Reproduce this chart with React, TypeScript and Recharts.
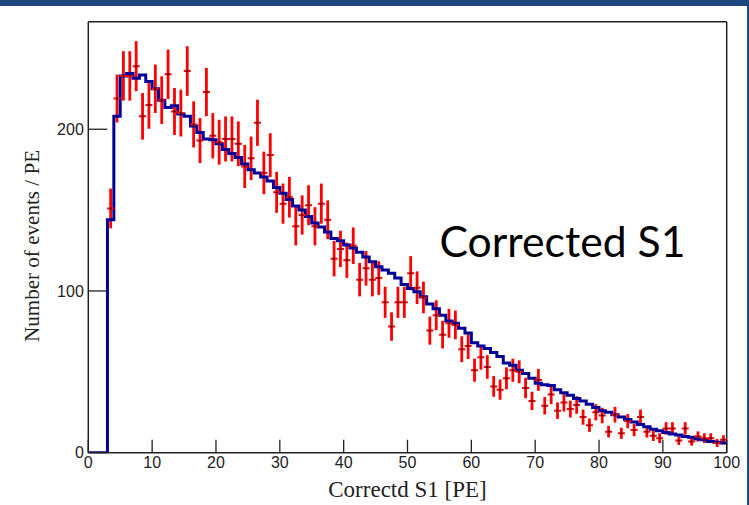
import React from "react";
import {
  ComposedChart,
  Line,
  Scatter,
  ErrorBar,
  XAxis,
  YAxis,
  ReferenceLine,
} from "recharts";

// Bin lower edges (PE), 1 PE wide bins from 0 to 100
const binEdges: number[] = Array.from({ length: 100 }, (_, i) => i);

// Simulated (blue histogram) counts per bin
const mcCounts: number[] = [
  0, 0, 0, 144, 208, 233, 234.5, 231.5, 233.5, 229.5,
  225, 218, 213.5, 214.5, 209.5, 208, 202, 198, 194, 193.5,
  191, 187.5, 185, 182.5, 178.5, 175, 173, 170.5, 168, 164,
  160.5, 156.5, 152.5, 150, 146, 142, 139.5, 136.5, 132.5, 131,
  128.5, 126.5, 124, 121, 118, 115, 113, 111, 108, 104,
  101.5, 99.5, 96.5, 92, 89, 85, 81.5, 80, 77, 74,
  68, 66, 64.5, 62, 59.5, 55.5, 54, 51, 49, 46,
  43, 42, 41.5, 39, 37, 35.5, 33.5, 32, 30, 28,
  26, 25, 23.5, 22, 20.5, 19, 17.5, 16, 14.5, 13.5,
  12.5, 11.5, 11, 10, 9.5, 8.5, 8, 7, 6.5, 6,
];

// Measured (red points) counts per bin
const dataCounts: (number | null)[] = [
  null, null, null, 151, 219, 233, 233, 239, 208, 215,
  225, 218, 234, 211, 210, 236, 203, 193, 223, 196,
  192, 194, 194, 191, 177, 182, 204, 173, 184, 161,
  154, 158, 140, 147, 153, 140, 154, 144, 120, 126,
  119, 128, 107, 114, 107, 108, 93, 78, 93, 93,
  111, 102, 96, 75.5, 85, 73, 80, 79, 64, 66,
  51, 59, 53, 41, 39, 46, 51, 50, 40, 32,
  45, 29, 36, 26, 31, 27, 29.5, 22, 17, 25,
  23, 13, 23.5, 12, 19.5, 14, 22, 13, 10.5, 9,
  15, 15, 7.5, 15, 7, 10, 9, 9, 6, 8,
];

const xTicks: number[] = [0, 10, 20, 30, 40, 50, 60, 70, 80, 90, 100];
const yTicks: number[] = [0, 100, 200];
const X_MAX = 100;
const Y_MAX = 266.5;

const xTitle = "Correctd S1 [PE]";
const yTitle = "Number of events / PE";
const overlayText = "Corrected S1";

const histData = [
  ...binEdges.map((e, i) => ({ x: e, y: mcCounts[i] })),
  { x: X_MAX, y: mcCounts[mcCounts.length - 1] },
];

const pointData = binEdges
  .map((e, i) => {
    const v = dataCounts[i];
    if (v === null) return null;
    return { x: e + 0.5, y: v, err: Math.sqrt(v) };
  })
  .filter((d) => d !== null) as { x: number; y: number; err: number }[];

const AXIS_COLOR = "#222";

const XTick = (props: any) => {
  const { x, y, payload } = props;
  return (
    <g>
      <line x1={x} x2={x} y1={y} y2={y - 13} stroke={AXIS_COLOR} strokeWidth={1.3} />
      <text
        x={x}
        y={y + 15}
        textAnchor="middle"
        fontFamily="'Liberation Sans', Arial, sans-serif"
        fontSize={16}
        fill={AXIS_COLOR}
      >
        {payload.value}
      </text>
    </g>
  );
};

const YTick = (props: any) => {
  const { x, y, payload } = props;
  return (
    <g>
      <line x1={x} x2={x + 19} y1={y} y2={y} stroke={AXIS_COLOR} strokeWidth={1.3} />
      <text
        x={x - 4.5}
        y={y + 5.7}
        textAnchor="end"
        fontFamily="'Liberation Sans', Arial, sans-serif"
        fontSize={16}
        fill={AXIS_COLOR}
      >
        {payload.value}
      </text>
    </g>
  );
};

const PointShape = (props: any) => {
  const { cx, cy } = props;
  if (cx == null || cy == null) return null;
  return (
    <g>
      <line x1={cx - 3.5} x2={cx + 3.5} y1={cy} y2={cy} stroke="#ff0000" strokeWidth={2} />
      <circle cx={cx} cy={cy} r={0.9} fill="#000" />
    </g>
  );
};

const XTitle = (props: any) => {
  const vb = props.viewBox || {};
  const cx = vb.x + vb.width / 2;
  return (
    <text
      x={cx}
      y={vb.y + 44.5}
      textAnchor="middle"
      fontFamily="'Liberation Serif', 'Times New Roman', serif"
      fontSize={23}
      fill="#222"
    >
      {xTitle}
    </text>
  );
};

const YTitle = () => {
  const bx = 39;
  const cy = 246;
  return (
    <text
      x={bx}
      y={cy}
      transform={`rotate(-90 ${bx} ${cy})`}
      textAnchor="middle"
      fontFamily="'Liberation Serif', 'Times New Roman', serif"
      fontSize={22}
      textLength={192}
      lengthAdjust="spacingAndGlyphs"
      fill="#222"
    >
      {yTitle}
    </text>
  );
};

export default function App() {
  return (
    <div
      style={{
        position: "absolute",
        left: 0,
        top: 0,
        width: 749,
        height: 505,
        background: "#fff",
        overflow: "hidden",
      }}
    >
      <ComposedChart
        width={749}
        height={505}
        margin={{ top: 21.7, right: 22.3, bottom: 0, left: 0 }}
      >
        <XAxis
          type="number"
          dataKey="x"
          domain={[0, X_MAX]}
          ticks={xTicks}
          interval={0}
          height={52.3}
          tickSize={0}
          tickMargin={0}
          tickLine={false}
          tick={<XTick />}
          axisLine={{ stroke: AXIS_COLOR, strokeWidth: 1.5 }}
          allowDataOverflow
          label={<XTitle />}
        />
        <YAxis
          type="number"
          dataKey="y"
          domain={[0, Y_MAX]}
          ticks={yTicks}
          interval={0}
          width={88.3}
          tickSize={0}
          tickMargin={0}
          tickLine={false}
          tick={<YTick />}
          axisLine={{ stroke: AXIS_COLOR, strokeWidth: 1.5 }}
          allowDataOverflow
          label={<YTitle />}
        />
        <ReferenceLine x={X_MAX} stroke={AXIS_COLOR} strokeWidth={1.5} />
        <ReferenceLine y={Y_MAX} stroke={AXIS_COLOR} strokeWidth={1.5} />
        <Scatter
          data={pointData}
          dataKey="y"
          fill="#ff0000"
          shape={<PointShape />}
          isAnimationActive={false}
        >
          <ErrorBar
            dataKey="err"
            direction="y"
            width={0}
            stroke="#ff0000"
            strokeWidth={2.8}
          />
        </Scatter>
        <Line
          data={histData}
          dataKey="y"
          type="stepAfter"
          stroke="#000099"
          strokeWidth={3}
          dot={false}
          activeDot={false}
          strokeLinejoin="miter"
          isAnimationActive={false}
        />
      </ComposedChart>
      <svg
        width={749}
        height={505}
        style={{ position: "absolute", left: 0, top: 0, pointerEvents: "none" }}
      >
        <text
          x={439.5}
          y={257}
          fontFamily="Lato, 'Open Sans', sans-serif"
          fontSize={42}
          textLength={246}
          lengthAdjust="spacingAndGlyphs"
          fill="#000"
        >
          {overlayText}
        </text>
      </svg>
      <div
        style={{
          position: "absolute",
          left: 0,
          top: 0,
          width: 749,
          height: 6,
          background: "#1F497D",
        }}
      />
      <div
        style={{
          position: "absolute",
          left: 746.5,
          top: 0,
          width: 3,
          height: 505,
          background: "#1F497D",
        }}
      />
    </div>
  );
}
